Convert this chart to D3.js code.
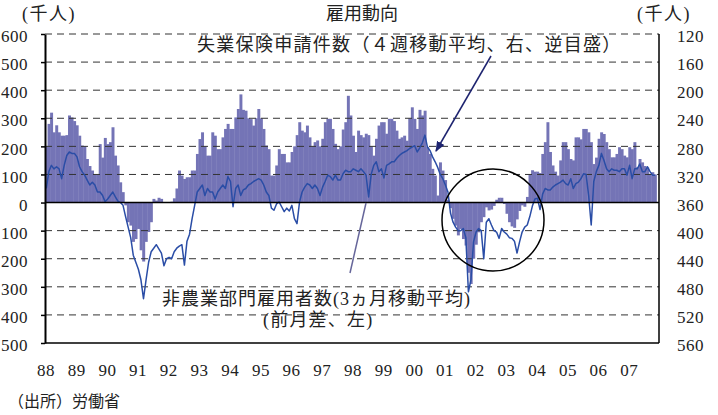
<!DOCTYPE html>
<html>
<head>
<meta charset="utf-8">
<script src="https://cdn.jsdelivr.net/npm/d3@7"></script>
<style>
  body { margin: 0; background: #fff; }
  text { font-family: "Liberation Serif", "DejaVu Serif", "Noto Sans CJK JP", serif; fill: #222; }
  .jp { font-family: "Liberation Serif", "Noto Sans CJK JP", sans-serif; }
</style>
</head>
<body>
<div id="chart"></div>
<script>
// non-farm payrolls, 3 month moving average, change from previous month (thousands)
// monthly, Jan 1988 - Nov 2007
const payrolls = [
  200, 280, 320, 250, 275, 250, 238, 238, 240, 310, 303, 290, // 88
  275, 238, 203, 200, 155, 130, 114, 100, 100, 208, 160, 230, // 89
  208, 215, 268, 167, 132, 72, 37, -10, -70, -82, -140, -130, // 90
  -94, -170, -210, -140, -105, -70, 13, 7, 17, 13, 0, 1, // 91
  0, 3, 15, 50, 114, 96, 84, 90, 90, 114, 114, 173, // 92
  226, 250, 200, 167, 167, 250, 238, 190, 190, 232, 262, 280, // 93
  262, 262, 303, 333, 385, 330, 327, 300, 297, 274, 300, 333, // 94
  300, 262, 203, 190, 96, 96, 132, 190, 173, 173, 143, 143, // 95
  180, 200, 240, 286, 256, 250, 274, 232, 200, 215, 221, 200, // 96
  227, 286, 298, 298, 262, 209, 190, 200, 260, 286, 380, 310, // 97
  238, 180, 256, 240, 232, 245, 240, 200, 167, 227, 274, 286, // 98
  286, 245, 298, 298, 290, 256, 227, 232, 238, 220, 300, 339, // 99
  298, 262, 330, 310, 327, 197, 173, 120, 96, 25, 143, 114, // 00
  80, 10, -20, -58, -82, -117, -94, -130, -153, -250, -290, -200, // 01
  -150, -106, -70, -52, -17, -28, -25, -12, 10, 17, 17, -5, // 02
  -40, -70, -85, -90, -60, -30, -10, -15, 20, 100, 115, 110, // 03
  110, 105, 173, 215, 286, 180, 132, 110, 96, 150, 215, 215, // 04
  190, 155, 150, 232, 232, 225, 262, 262, 250, 215, 137, 160, // 05
  227, 250, 244, 215, 190, 161, 161, 173, 197, 190, 167, 161, // 06
  197, 190, 215, 126, 155, 143, 130, 125, 102, 108, 100 // 07
];

// initial jobless claims, 4 week moving average (thousands), monthly readings
const claims = [
  340, 316, 307, 312, 309, 312, 326, 307, 293, 288, 290, 290,
  295, 309, 316, 321, 328, 335, 331, 335, 345, 345, 350, 359,
  355, 350, 345, 352, 358, 360, 364, 380, 395, 410, 435, 445,
  455, 470, 497, 470, 445, 430, 425, 420, 426, 432, 450, 440,
  438, 440, 430, 425, 422, 420, 449, 415, 405, 383, 364, 345,
  340, 335, 350, 340, 345, 345, 355, 345, 340, 335, 340, 323,
  330, 366, 340, 335, 350, 342, 340, 335, 333, 330, 328, 326,
  328, 335, 345, 350, 368, 371, 362, 359, 366, 373, 368, 372,
  364, 383, 390, 359, 345, 338, 333, 335, 340, 335, 340, 350,
  338, 330, 321, 323, 328, 321, 328, 328, 319, 314, 316, 316,
  312, 314, 316, 312, 316, 321, 352, 320, 307, 302, 316, 312,
  325, 307, 305, 302, 302, 297, 293, 290, 288, 286, 283, 281,
  279, 288, 282, 275, 264, 281, 286, 295, 302, 310, 320, 326,
  335, 345, 375, 388, 395, 400, 400, 397, 410, 487, 470, 416,
  402, 397, 400, 440, 388, 383, 392, 400, 402, 411, 397, 402,
  405, 410, 411, 415, 432, 416, 402, 395, 392, 380, 365, 355,
  354, 370, 348, 340, 342, 342, 338, 335, 333, 331, 328, 333,
  335, 326, 340, 333, 331, 326, 319, 320, 350, 392, 330, 316,
  307, 290, 300, 312, 316, 312, 314, 314, 316, 312, 312, 321,
  307, 326, 312, 312, 305, 316, 316, 309, 316, 321, 321
];

const yearLabels = ["88", "89", "90", "91", "92", "93", "94", "95", "96", "97",
  "98", "99", "00", "01", "02", "03", "04", "05", "06", "07"];
const leftTicks = [600, 500, 400, 300, 200, 100, 0, -100, -200, -300, -400, -500];
const rightTicks = [120, 160, 200, 240, 280, 320, 360, 400, 440, 480, 520, 560];
const startYear = 1988;

const W = 718, H = 415;
const plot = { left: 45, right: 659, top: 34, bottom: 343 };

const svg = d3.select("#chart").append("svg")
  .attr("width", W)
  .attr("height", H);

const x = d3.scaleLinear().domain([startYear, startYear + yearLabels.length]).range([plot.left, plot.right]);
const yL = d3.scaleLinear().domain([-500, 600]).range([plot.bottom, plot.top]);
// right axis is upside down
const yR = d3.scaleLinear().domain([560, 120]).range([plot.bottom, plot.top]);

const monthX = (i) => x(startYear + i / 12);

// bars
svg.append("g")
  .selectAll("rect")
  .data(payrolls)
  .enter()
  .append("rect")
  .attr("x", (d, i) => monthX(i))
  .attr("width", (d, i) => monthX(i + 1) - monthX(i) + 0.4)
  .attr("y", (d) => Math.min(yL(d), yL(0)))
  .attr("height", (d) => Math.abs(yL(d) - yL(0)))
  .attr("fill", "#7474b6");

// dashed grid (drawn over the bars)
svg.append("g")
  .selectAll("line")
  .data(leftTicks.filter((t) => t !== 0 && t !== -500))
  .enter()
  .append("line")
  .attr("x1", plot.left)
  .attr("x2", plot.right)
  .attr("y1", (d) => yL(d))
  .attr("y2", (d) => yL(d))
  .attr("stroke", "#333")
  .attr("stroke-width", 1)
  .attr("stroke-dasharray", "7,5");

// claims line
svg.append("path")
  .datum(claims)
  .attr("fill", "none")
  .attr("stroke", "#2a4da6")
  .attr("stroke-width", 1.5)
  .attr("stroke-linejoin", "round")
  .attr("d", d3.line()
    .x((d, i) => monthX(i + 0.5))
    .y((d) => yR(d)));

// zero line, bottom and right frame
svg.append("line")
  .attr("x1", plot.left).attr("x2", plot.right)
  .attr("y1", yL(0)).attr("y2", yL(0))
  .attr("stroke", "#000").attr("stroke-width", 1.5);
svg.append("line")
  .attr("x1", plot.left).attr("x2", plot.right)
  .attr("y1", plot.bottom).attr("y2", plot.bottom)
  .attr("stroke", "#000").attr("stroke-width", 1.5);
svg.append("line")
  .attr("x1", plot.right).attr("x2", plot.right)
  .attr("y1", plot.top).attr("y2", plot.bottom)
  .attr("stroke", "#000").attr("stroke-width", 1.5);

// left axis, negatives shown without sign
const leftAxis = svg.append("g")
  .attr("transform", "translate(" + plot.left + ",0)")
  .call(d3.axisLeft(yL).tickValues(leftTicks).tickSize(4).tickSizeOuter(0).tickPadding(13)
    .tickFormat((d) => Math.abs(d)));
leftAxis.select(".domain").attr("stroke", "#000").attr("stroke-width", 2);
leftAxis.selectAll(".tick line").attr("stroke", "#000").attr("stroke-width", 1.5);
leftAxis.selectAll("text")
  .attr("dy", "0.45em")
  .style("font-size", "17px")
  .style("letter-spacing", "0.5px")
  .style("fill", "#222");

// right axis
const rightAxis = svg.append("g")
  .attr("transform", "translate(" + plot.right + ",0)")
  .call(d3.axisRight(yR).tickValues(rightTicks).tickSize(0).tickPadding(18));
rightAxis.select(".domain").remove();
rightAxis.selectAll("text")
  .attr("dy", "0.45em")
  .style("font-size", "17px")
  .style("letter-spacing", "0.5px")
  .style("fill", "#222");

// year labels
svg.append("g")
  .selectAll("text")
  .data(yearLabels)
  .enter()
  .append("text")
  .attr("x", (d, i) => x(startYear + i) + 1)
  .attr("y", 376)
  .attr("text-anchor", "middle")
  .style("font-size", "17px")
  .style("letter-spacing", "0.5px")
  .text((d) => d);

// titles
svg.append("text").attr("class", "jp").attr("x", 362).attr("y", 20).attr("text-anchor", "middle")
  .style("font-size", "18px").text("雇用動向");
svg.append("text").attr("class", "jp").attr("x", 22).attr("y", 20)
  .style("font-size", "18px").style("letter-spacing", "1.5px").text("(千人)");
svg.append("text").attr("class", "jp").attr("x", 637).attr("y", 20)
  .style("font-size", "18px").style("letter-spacing", "1.5px").text("(千人)");
svg.append("text").attr("class", "jp").attr("x", 8).attr("y", 407)
  .style("font-size", "16px").text("（出所）労働省");

// annotations
svg.append("defs").append("marker")
  .attr("id", "head")
  .attr("viewBox", "0 0 10 10")
  .attr("refX", 9).attr("refY", 5)
  .attr("markerWidth", 7).attr("markerHeight", 7)
  .attr("orient", "auto")
  .append("path")
  .attr("d", "M0,1 L10,5 L0,9 z")
  .attr("fill", "#1e2470");

svg.append("text").attr("class", "jp").attr("x", 197).attr("y", 51)
  .style("font-size", "18px").style("letter-spacing", "1.3px")
  .text("失業保険申請件数（４週移動平均、右、逆目盛）");
svg.append("line")
  .attr("x1", 491).attr("y1", 56).attr("x2", 436).attr("y2", 151)
  .attr("stroke", "#1e2470").attr("stroke-width", 1.5)
  .attr("marker-end", "url(#head)");

svg.append("text").attr("class", "jp").attr("x", 162).attr("y", 305)
  .style("font-size", "18px").style("letter-spacing", "1px")
  .text("非農業部門雇用者数(3ヵ月移動平均)");
svg.append("text").attr("class", "jp").attr("x", 263).attr("y", 326)
  .style("font-size", "18px").style("letter-spacing", "1.2px")
  .text("(前月差、左)");
svg.append("line")
  .attr("x1", 350).attr("y1", 273).attr("x2", 366).attr("y2", 203)
  .attr("stroke", "#66669a").attr("stroke-width", 1.5);

svg.append("circle")
  .attr("cx", 493).attr("cy", 220).attr("r", 51)
  .attr("fill", "none")
  .attr("stroke", "#000")
  .attr("stroke-width", 1.5);
</script>
</body>
</html>
